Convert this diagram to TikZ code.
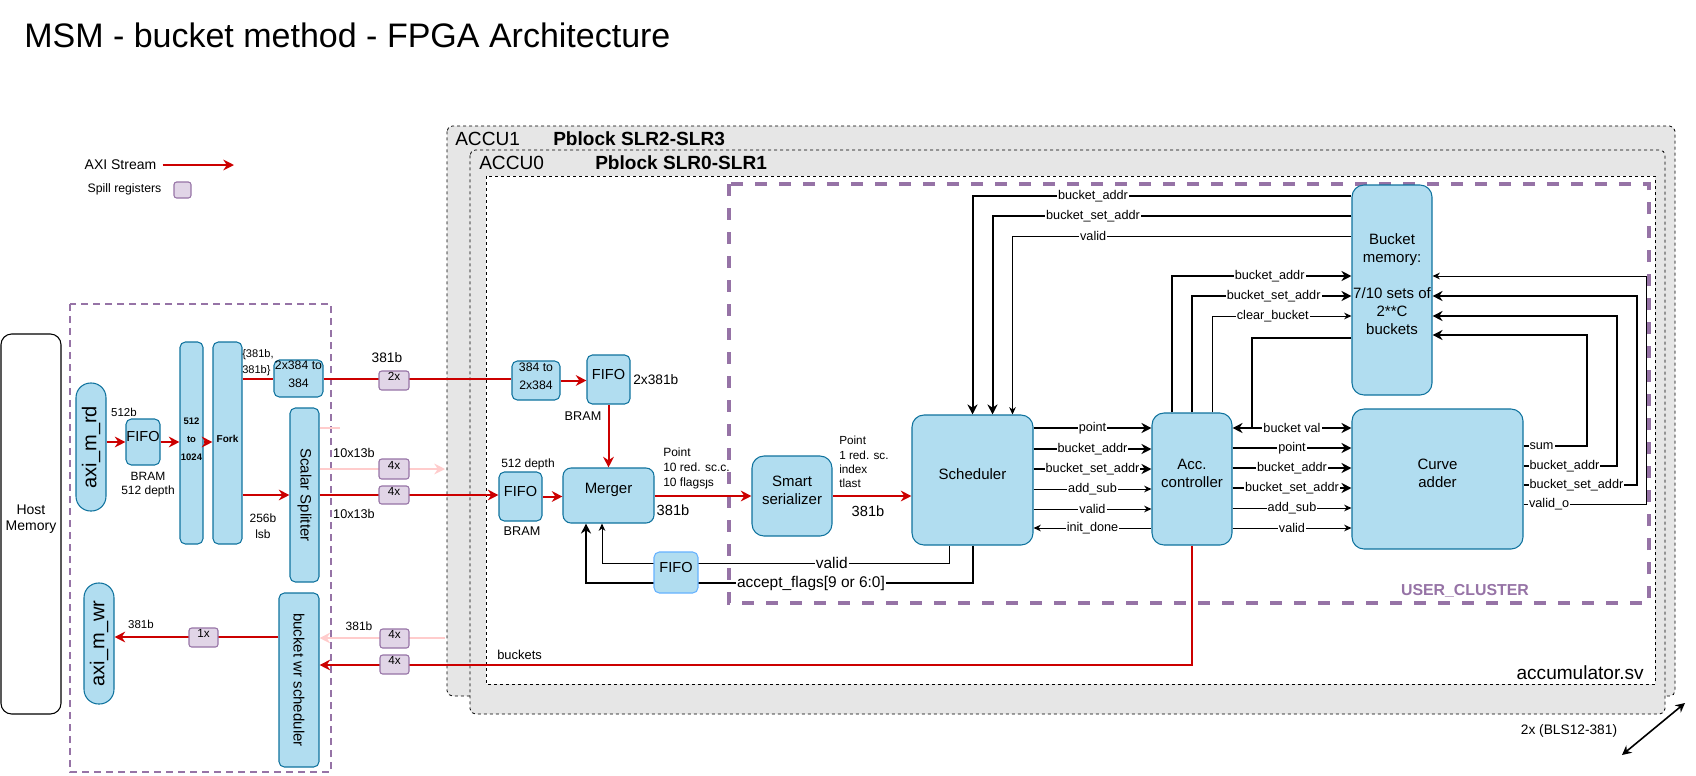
\documentclass[tikz,border=0pt]{standalone}
\usepackage{fontspec}
\setmainfont{Liberation Sans}
\usetikzlibrary{arrows.meta,fit}

\definecolor{boxfill}{HTML}{B1DDF0}
\definecolor{boxline}{HTML}{10739E}
\definecolor{fifoline}{HTML}{66B2FF}
\definecolor{spillfill}{HTML}{E1D5E7}
\definecolor{spillline}{HTML}{9673A6}
\definecolor{axired}{HTML}{CC0000}
\definecolor{axipink}{HTML}{FFCCCC}
\definecolor{slrgray}{HTML}{E6E6E6}

\newcommand\fsz[1]{\fontsize{#1}{1.2\dimexpr#1pt\relax}\selectfont}

\tikzset{
	blk/.style={draw=boxline,fill=boxfill,line width=0.8pt,rounded corners=4pt,inner sep=0pt,align=center,font=\fontsize{11.25}{13.5}\selectfont},
	bigblk/.style={blk,rounded corners=9pt},
	pill/.style={draw=boxline,fill=boxfill,line width=0.8pt,rounded corners=11pt,inner sep=0pt},
	pilltext/.style={rotate=90,font=\fsz{15}},
	spill/.style={draw=spillline,fill=spillfill,line width=0.8pt,rounded corners=2pt,inner sep=0pt,font=\fsz{8.8}},
	slr/.style={draw,fill=slrgray,dash pattern=on 2.25pt off 2.25pt,line width=0.6pt,rounded corners=4pt},
	grp/.style={draw=spillline,dash pattern=on 5pt off 4pt,line width=1.5pt},
	cluster/.style={draw=spillline,dash pattern=on 9pt off 9pt,line width=3pt},
	txt/.style={inner sep=0pt},
	lbl/.style={fill=white,inner sep=0.8pt,font=\fsz{9.5}},
	axi/.style={draw=axired,line width=1.5pt},
	axiarr/.style={axi,-{Stealth[length=8pt,width=8pt]}},
	pinkarr/.style={draw=axipink,line width=1.5pt,-{Stealth[length=8pt,width=8pt]}},
	bus/.style={line width=1.5pt,>={Stealth[length=7.5pt,width=7.5pt]}},
	sig/.style={line width=0.75pt,>={Stealth[length=5.5pt,width=5pt]}}
}

\begin{document}
\begin{tikzpicture}[x=0.75pt,y=-0.75pt]
	\useasboundingbox (0,0) rectangle (1696,775);

	% title and legend
	\node[txt,anchor=base west,font=\fsz{25.5}] (title) at (24,47) {MSM - bucket method - FPGA Architecture};
	\node[txt,font=\fsz{10.5}] (legaxi) at (120.5,165) {AXI Stream};
	\coordinate (legend) at (234,165);
	\draw[axiarr,shorten <=4.5pt] (legaxi.east) -- (legend);
	\node[txt,font=\fsz{9.2}] (legspill) at (124.5,189) {Spill registers};
	\node[spill,fit={(174,182) (191,198)}] (legbox) {};

	% pblocks
	\draw[slr] (447,126) rectangle (1675,696);
	\draw[slr] (470,150) rectangle (1665,714);
	\draw[fill=white,dash pattern=on 2.25pt off 2.25pt,line width=0.6pt] (486,176) rectangle (1655,684);
	\draw[cluster] (729,184) rectangle (1649,603);
	\draw[grp] (70,304) rectangle (331,772);
	\node[txt,anchor=west,font=\fsz{14.3}] at (455,139) {ACCU1};
	\node[txt,anchor=west,font=\bfseries\fsz{14.3}] at (553,139) {Pblock SLR2-SLR3};
	\node[txt,anchor=west,font=\fsz{14.3}] at (479,163) {ACCU0};
	\node[txt,anchor=west,font=\bfseries\fsz{14.3}] at (595,163) {Pblock SLR0-SLR1};
	\node[txt,anchor=east,font=\fsz{14.3}] at (1644,673) {accumulator.sv};
	\node[txt,text=spillline,font=\bfseries\fsz{11.9}] at (1465,591) {USER\_CLUSTER};

	% host side
	\node[blk,draw=black,fill=white,rounded corners=8pt,fit={(1,334) (61,714)},font=\fsz{10.5}] (host) {Host\\Memory};
	\node[pill,fit={(76,383) (106,511)},label={[pilltext]center:axi\_m\_rd}] (axird) {};
	\node[pill,fit={(84,583) (114,704)},label={[pilltext]center:axi\_m\_wr}] (axiwr) {};
	\node[blk,fit={(126,419) (160,465)},font=\fsz{10.9}] (fifoA) {FIFO};
	\node[blk,fit={(180,342) (203,544)},font=\bfseries\fontsize{7.1}{13.5}\selectfont] (widen) {512\\to\\1024};
	\node[blk,fit={(213,342) (242,544)},font=\bfseries\fsz{7.5}] (fork) {Fork};
	\node[blk,fit={(274,360) (323,397)},font=\fontsize{9.2}{13.5}\selectfont] (pack) {2x384 to\\384};
	\node[blk,fit={(290,408) (319,582)}] (split) {\rotatebox{-90}{Scalar Splitter}};
	\node[blk,fit={(279,593) (319,767)}] (wrsched) {\rotatebox{-90}{bucket wr scheduler}};

	% accumulator
	\node[blk,fit={(512,361) (560,400)},font=\fontsize{9.2}{13.5}\selectfont] (unpack) {384 to\\2x384};
	\node[blk,fit={(587,355) (630,404)},font=\fsz{10.9}] (fifoB) {FIFO};
	\node[blk,fit={(499,472) (542,521)},font=\fsz{10.9}] (fifoC) {FIFO};
	\node[blk,rounded corners=6pt,fit={(563,468) (654,523)}] (merger) {Merger};
	\node[bigblk,fit={(752,456) (832,536)}] (serial) {Smart\\serializer};
	\node[bigblk,fit={(912,415) (1033,545)}] (sched) {Scheduler};
	\node[bigblk,fit={(1152,413) (1232,545)}] (accctl) {Acc.\\controller};
	\node[bigblk,fit={(1352,185) (1432,395)}] (bmem) {Bucket\\memory:\\[13.5pt]7/10 sets of\\2**C\\buckets};
	\node[bigblk,fit={(1352,409) (1523,549)}] (cadder) {Curve\\adder};

	% axi streams
	\draw[axiarr] (axird.east |- fifoA.west) -- (fifoA.west);
	\draw[axiarr] (fifoA.east) -- (widen.west |- fifoA.east);
	\draw[axiarr] (widen.east |- fifoA.east) -- (fork.west |- fifoA.east);
	\draw[axi] (fork.east |- pack.west) -- (pack.west);
	\draw[axiarr] (fork.east |- split.west) -- (split.west);
	\draw[axi] (pack.east) -- (unpack.west |- pack.east);
	\draw[axiarr] (unpack.east) -- (fifoB.west |- unpack.east);
	\draw[axiarr] (fifoB.south) -- (merger.north);
	\draw[axiarr] (split.east) -- (fifoC.west |- split.east);
	\draw[axiarr] (fifoC.east) -- (merger.west |- fifoC.east);
	\draw[axiarr] (merger.east |- serial.west) -- (serial.west);
	\draw[axiarr] (serial.east) -- (sched.west |- serial.east);
	\coordinate (pinkout) at (445,469);
	\coordinate (pinkin) at (445,638);
	\draw[pinkarr] (split.east |- pinkout) -- (pinkout);
	\draw[draw=axipink,line width=1.5pt] (split.east |- 0,428) -- ++(20,0);
	\draw[pinkarr] (pinkin) -- (wrsched.east |- pinkin);
	\draw[axiarr] (accctl.south) |- (wrsched.east |- 0,665);
	\draw[axiarr] (wrsched.west |- 0,637) -- (axiwr.east |- 0,637);

	% scheduler inputs
	\draw[bus,->] (bmem.west |- 0,196) -| (sched.north) node[lbl,pos=0.341] {bucket\_addr};
	\draw[bus,->] (bmem.west |- 0,216) -| ([xshift=15pt]sched.north) node[lbl,pos=0.36] {bucket\_set\_addr};
	\draw[sig,->] (bmem.west |- 0,236) -| ([xshift=30pt]sched.north) node[lbl,pos=0.381] {valid};

	% scheduler -> acc. controller
	\draw[bus,->] (sched.east |- 0,428) -- (accctl.west |- 0,428) node[lbl,midway] {point};
	\draw[bus,->] (sched.east |- 0,449) -- (accctl.west |- 0,449) node[lbl,midway] {bucket\_addr};
	\draw[bus,->] (sched.east |- 0,469) -- (accctl.west |- 0,469) node[lbl,midway] {bucket\_set\_addr};
	\draw[sig,->] (sched.east |- 0,489) -- (accctl.west |- 0,489) node[lbl,midway] {add\_sub};
	\draw[sig,->] (sched.east |- 0,509) -- (accctl.west |- 0,509) node[lbl,midway] {valid};
	\draw[sig,<-] (sched.east |- 0,528) -- (accctl.west |- 0,528) node[lbl,midway] {init\_done};

	% acc. controller -> bucket memory
	\draw[bus,->] ([xshift=-15pt]accctl.north) |- (bmem.west |- 0,276) node[lbl,pos=0.772] {bucket\_addr};
	\draw[bus,->] (accctl.north) |- (bmem.west |- 0,296) node[lbl,pos=0.756] {bucket\_set\_addr};
	\draw[sig,->] ([xshift=15pt]accctl.north) |- (bmem.west |- 0,316) node[lbl,pos=0.718] {clear\_bucket};
	\draw[bus] (bmem.west |- 0,338) -| (1252,428);
	\draw[bus,<->] (accctl.east |- 0,428) -- (cadder.west |- 0,428) node[lbl,midway] {bucket val};

	% acc. controller -> curve adder
	\draw[bus,->] (accctl.east |- 0,448) -- (cadder.west |- 0,448) node[lbl,midway] {point};
	\draw[bus,->] (accctl.east |- 0,468) -- (cadder.west |- 0,468) node[lbl,midway] {bucket\_addr};
	\draw[bus,->] (accctl.east |- 0,488) -- (cadder.west |- 0,488) node[lbl,midway] {bucket\_set\_addr};
	\draw[sig,->] (accctl.east |- 0,508) -- (cadder.west |- 0,508) node[lbl,midway] {add\_sub};
	\draw[sig,->] (accctl.east |- 0,528) -- (cadder.west |- 0,528) node[lbl,midway] {valid};

	% curve adder -> bucket memory
	\draw[bus,->] (cadder.east |- 0,446) node[lbl,anchor=west,xshift=3pt] {sum} -- ++(63,0) |- (bmem.east |- 0,335);
	\draw[bus,->] (cadder.east |- 0,466) node[lbl,anchor=west,xshift=3pt] {bucket\_addr} -- ++(93,0) |- (bmem.east |- 0,316);
	\draw[bus,->] (cadder.east |- 0,485) node[lbl,anchor=west,xshift=3pt] {bucket\_set\_addr} -- ++(113,0) |- (bmem.east |- 0,296);
	\draw[sig,->] (cadder.east |- 0,504) node[lbl,anchor=west,xshift=3pt] {valid\_o} -- ++(123,0) |- (bmem.east |- 0,276);

	% back to merger
	\draw[sig,->] (sched.south) ++(-23.5,0) |- (602,563) node[lbl,font=\fsz{11.6},pos=0.669] {valid} -- (merger.south -| 602,0);
	\draw[bus,->] (sched.south) |- (586,583) node[lbl,font=\fsz{11.6},pos=0.709] {accept\_flags[9 or 6:0]} -- (merger.south -| 586,0);
	\node[blk,draw=fifoline,fit={(654,552) (698,593)},font=\fsz{10.9}] (fifoD) {FIFO};

	% spill registers
	\node[spill,fit={(379,371) (409,390)}] (spillA) {2x};
	\node[spill,fit={(379,459) (409,479)}] (spillB) {4x};
	\node[spill,fit={(379,486) (409,504)}] (spillC) {4x};
	\node[spill,fit={(189,628) (218,647)}] (spillD) {1x};
	\node[spill,fit={(380,629) (409,648)}] (spillE) {4x};
	\node[spill,fit={(380,655) (409,674)}] (spillF) {4x};

	% widths
	\node[txt,font=\fsz{8.6}] at (124,412) {512b};
	\node[txt,align=center,font=\fontsize{9}{10.5}\selectfont] at (148,485) {BRAM\\512 depth};
	\node[txt,anchor=west,align=left,font=\fontsize{8.3}{12}\selectfont] at (242,363) {\{381b,\\381b\}};
	\node[txt,align=center,font=\fontsize{9}{12}\selectfont] at (263,526) {256b\\lsb};
	\node[txt,font=\fsz{8.6}] at (141,624) {381b};
	\node[txt,font=\fsz{10.3}] at (387,358) {381b};
	\node[txt,font=\fsz{9.5}] at (354,453) {10x13b};
	\node[txt,font=\fsz{9.5}] at (354,514) {10x13b};
	\node[txt,anchor=west,font=\fsz{10.3}] at (633,380) {2x381b};
	\node[txt,font=\fsz{9.5}] at (583,416) {BRAM};
	\node[txt,font=\fsz{9}] at (528,464) {512 depth};
	\node[txt,font=\fsz{9.5}] at (522,531) {BRAM};
	\node[txt,anchor=west,align=left,font=\fontsize{9}{11.25}\selectfont] at (663,468) {Point\\10 red. sc.c.\\10 flagsȷs};
	\node[txt,font=\fsz{11}] at (673,510) {381b};
	\node[txt,anchor=west,align=left,font=\fontsize{8.8}{10.7}\selectfont] at (839,462) {Point\\1 red. sc.\\index\\tlast};
	\node[txt,font=\fsz{11}] at (868,511) {381b};
	\node[txt,font=\fsz{9}] at (359,626) {381b};
	\node[txt,anchor=west,font=\fsz{9.7}] at (497,655) {buckets};

	% two instances
	\node[txt,font=\fsz{10.3}] at (1569,731) {2x (BLS12-381)};
	\coordinate (dupA) at (1622,755);
	\coordinate (dupB) at (1685,703);
	\draw[line width=1.2pt,{Stealth[length=7pt,width=7pt]}-{Stealth[length=7pt,width=7pt]}] (dupA) -- (dupB);
\end{tikzpicture}
\end{document}
